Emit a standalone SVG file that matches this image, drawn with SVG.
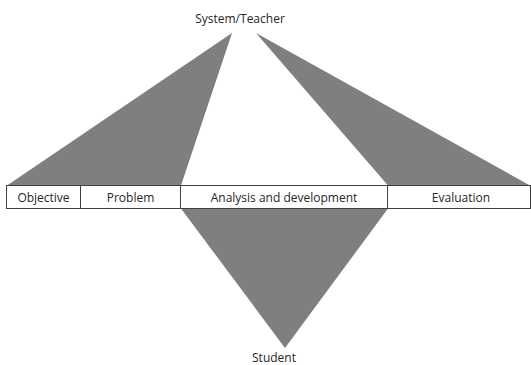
<svg xmlns="http://www.w3.org/2000/svg" width="531" height="365" viewBox="0 0 531 365">
<style>
.w{fill:#7f7f7f;stroke:none}
.box{fill:#fff;stroke:#404040;stroke-width:1}
text{font-family:"Open Sans","Liberation Sans",sans-serif;font-size:12px;fill:#262626;text-anchor:middle}
</style>
<rect width="531" height="365" fill="#fff"/>
<g id="connectors">
<polygon class="w" points="232,33 7,185.5 181,185.5"/>
<polygon class="w" points="256,33 388,185.5 530,185.5"/>
<polygon class="w" points="181,208.5 388,208.5 285,348"/>
</g>
<g id="system-teacher"><text x="240" y="23">System/Teacher</text></g>
<g id="student"><text x="274" y="362">Student</text></g>
<g id="objective"><rect class="box" x="6.5" y="185.5" width="74" height="23"/><text x="43.5" y="202">Objective</text></g>
<g id="problem"><rect class="box" x="80.5" y="185.5" width="100" height="23"/><text x="130.5" y="202">Problem</text></g>
<g id="analysis"><rect class="box" x="180.5" y="185.5" width="207" height="23"/><text x="284" y="202">Analysis and development</text></g>
<g id="evaluation"><rect class="box" x="387.5" y="185.5" width="143" height="23"/><text x="461" y="202">Evaluation</text></g>
</svg>
